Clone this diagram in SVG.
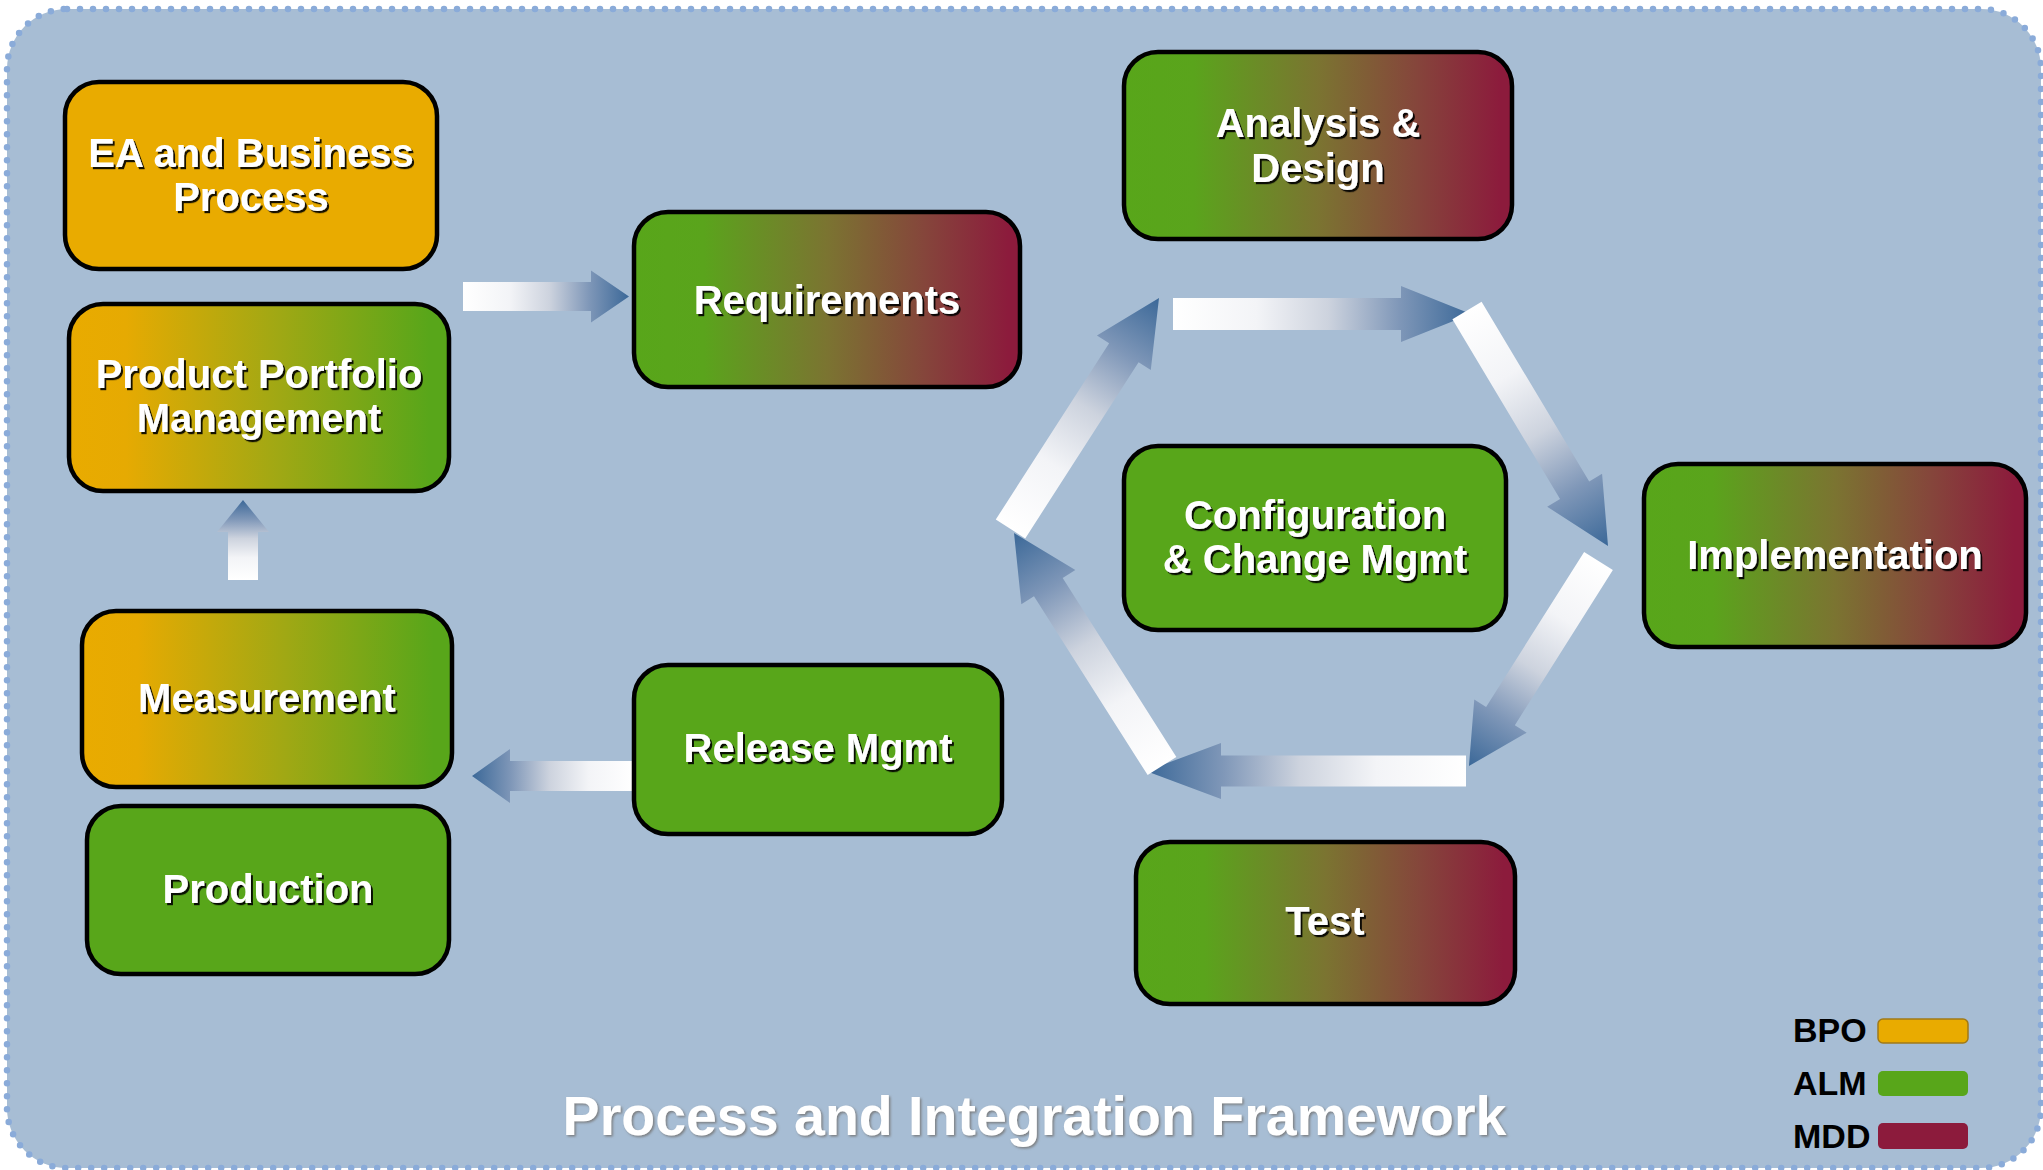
<svg xmlns="http://www.w3.org/2000/svg" width="2043" height="1170" viewBox="0 0 2043 1170">
<defs>
<style>
.box{stroke:#000;stroke-width:4.5}
.lbl{font-family:"Liberation Sans",Arial,sans-serif;font-weight:bold;font-size:40px;fill:#fff;text-anchor:middle;filter:url(#sh)}
.title{font-family:"Liberation Sans",Arial,sans-serif;font-weight:bold;font-size:55.5px;fill:#fff;text-anchor:middle;filter:url(#tsh)}
.leg{font-family:"Liberation Sans",Arial,sans-serif;font-weight:bold;font-size:34px;fill:#000}
.arr{fill:url(#ag)}
</style>
<filter id="sh" x="-10%" y="-20%" width="120%" height="150%">
<feDropShadow dx="2" dy="2.2" stdDeviation="0.6" flood-color="#000" flood-opacity="0.9"/>
</filter>
<filter id="tsh" x="-5%" y="-20%" width="110%" height="150%">
<feDropShadow dx="1.5" dy="1.5" stdDeviation="1.2" flood-color="#777" flood-opacity="0.9"/>
</filter>
<linearGradient id="gm" x1="0" y1="0" x2="1" y2="0">
<stop offset="0" stop-color="#58a61a"/>
<stop offset="0.18" stop-color="#5aa41c"/>
<stop offset="0.5" stop-color="#7b7431"/>
<stop offset="0.75" stop-color="#85463b"/>
<stop offset="0.97" stop-color="#8c1b3c"/>
<stop offset="1" stop-color="#8c1b3c"/>
</linearGradient>
<linearGradient id="og" x1="0" y1="0" x2="1" y2="0">
<stop offset="0" stop-color="#e9ab00"/>
<stop offset="0.15" stop-color="#e6aa02"/>
<stop offset="0.55" stop-color="#a0a814"/>
<stop offset="0.95" stop-color="#58a61a"/>
<stop offset="1" stop-color="#58a61a"/>
</linearGradient>
<linearGradient id="ag" x1="0" y1="0" x2="1" y2="0">
<stop offset="0" stop-color="#ffffff"/>
<stop offset="0.28" stop-color="#f3f4f7"/>
<stop offset="0.52" stop-color="#cdd3de"/>
<stop offset="0.76" stop-color="#7f97b8"/>
<stop offset="1" stop-color="#3b6898"/>
</linearGradient>
</defs>

<rect id="frame" x="7" y="9" width="2034" height="1159" rx="60" fill="#a7bdd4" stroke="#8aabd9" stroke-width="6.5" stroke-dasharray="0 13" stroke-linecap="round"/>

<g id="connectors">
<path class="arr" transform="translate(463,296.5)" d="M0,-14.5 L128,-14.5 L128,-26 L166,0 L128,26 L128,14.5 L0,14.5 Z"/>
<path class="arr" transform="translate(243,580) rotate(-90)" d="M0,-15 L48,-15 L48,-26 L80,0 L48,26 L48,15 L0,15 Z"/>
<path class="arr" transform="translate(634,776) rotate(180)" d="M0,-15 L124,-15 L124,-27 L162,0 L124,27 L124,15 L0,15 Z"/>
<path class="arr" transform="translate(1173,314)" d="M0,-16 L228,-16 L228,-28 L298,0 L228,28 L228,16 L0,16 Z"/>
<path class="arr" transform="translate(1467,310.5) rotate(59.09)" d="M0,-17 L209.5,-17 L209.5,-32 L274.5,0 L209.5,32 L209.5,17 L0,17 Z"/>
<path class="arr" transform="translate(1598.5,561) rotate(122.29)" d="M0,-17 L183.5,-17 L183.5,-31 L242.5,0 L183.5,31 L183.5,17 L0,17 Z"/>
<path class="arr" transform="translate(1466,771) rotate(180)" d="M0,-15.5 L245,-15.5 L245,-28 L320,0 L245,28 L245,15.5 L0,15.5 Z"/>
<path class="arr" transform="translate(1162,766) rotate(-122.42)" d="M0,-17 L212,-17 L212,-32 L276,0 L212,32 L212,17 L0,17 Z"/>
<path class="arr" transform="translate(1010.5,529) rotate(-57.26)" d="M0,-17.5 L209.6,-17.5 L209.6,-32 L274.6,0 L209.6,32 L209.6,17.5 L0,17.5 Z"/>
</g>

<g id="ea">
<rect class="box" x="65" y="82" width="372" height="187" rx="34" fill="#e9ab00"/>
<text class="lbl" x="251" y="167">EA and Business</text>
<text class="lbl" x="251" y="211">Process</text>
</g>
<g id="ppm">
<rect class="box" x="69" y="304" width="380" height="187" rx="34" fill="url(#og)"/>
<text class="lbl" x="259" y="388">Product Portfolio</text>
<text class="lbl" x="259" y="432">Management</text>
</g>
<g id="measurement">
<rect class="box" x="82" y="611" width="370" height="176" rx="34" fill="url(#og)"/>
<text class="lbl" x="267" y="712">Measurement</text>
</g>
<g id="production">
<rect class="box" x="87" y="806" width="362" height="168" rx="34" fill="#58a61a"/>
<text class="lbl" x="268" y="903">Production</text>
</g>
<g id="requirements">
<rect class="box" x="634" y="212" width="386" height="175" rx="34" fill="url(#gm)"/>
<text class="lbl" x="827" y="314">Requirements</text>
</g>
<g id="release">
<rect class="box" x="634" y="665" width="368" height="169" rx="34" fill="#58a61a"/>
<text class="lbl" x="818" y="762">Release Mgmt</text>
</g>
<g id="analysis">
<rect class="box" x="1124" y="52" width="388" height="187" rx="34" fill="url(#gm)"/>
<text class="lbl" x="1318" y="137">Analysis &amp;</text>
<text class="lbl" x="1318" y="182">Design</text>
</g>
<g id="config">
<rect class="box" x="1124" y="446" width="382" height="184" rx="34" fill="#58a61a"/>
<text class="lbl" x="1315" y="529">Configuration</text>
<text class="lbl" x="1315" y="573">&amp; Change Mgmt</text>
</g>
<g id="implementation">
<rect class="box" x="1644" y="464" width="382" height="183" rx="34" fill="url(#gm)"/>
<text class="lbl" x="1835" y="569">Implementation</text>
</g>
<g id="test">
<rect class="box" x="1136" y="842" width="379" height="162" rx="34" fill="url(#gm)"/>
<text class="lbl" x="1325" y="935">Test</text>
</g>

<g id="legend">
<text class="leg" x="1793" y="1042">BPO</text>
<rect x="1878" y="1019" width="90" height="24" rx="5" fill="#e9ab00" stroke="#a07a18" stroke-width="1.5"/>
<text class="leg" x="1793" y="1095">ALM</text>
<rect x="1878" y="1071" width="90" height="25" rx="5" fill="#58a61a"/>
<text class="leg" x="1793" y="1148">MDD</text>
<rect x="1878" y="1123" width="90" height="26" rx="5" fill="#8c1b3c"/>
</g>

<text id="title" class="title" x="1034.5" y="1135">Process and Integration Framework</text>
</svg>
